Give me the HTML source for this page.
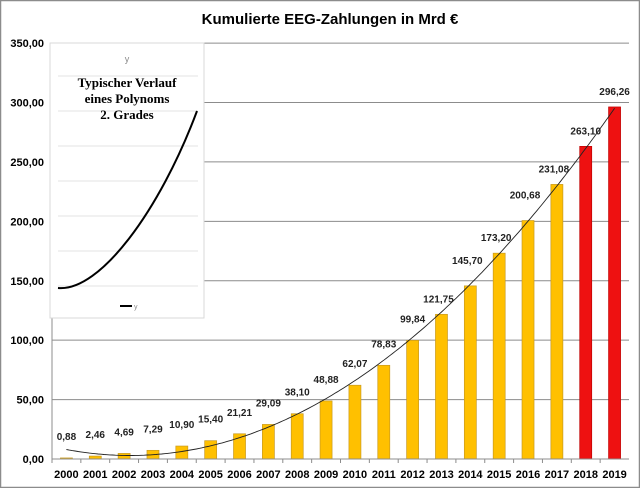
<!DOCTYPE html>
<html><head><meta charset="utf-8"><style>
html,body{margin:0;padding:0;background:#fff;}
svg{display:block;font-family:"Liberation Sans",Arial,sans-serif;}
</style></head><body>
<svg id="chart" width="640" height="488" viewBox="0 0 640 488">
<rect x="0.5" y="0.5" width="639" height="487" fill="#fff" stroke="#8c8c8c" stroke-width="1.5"/>
<text x="330" y="24" text-anchor="middle" font-size="15" font-weight="bold" fill="#000">Kumulierte EEG-Zahlungen in Mrd €</text>
<g id="grid"></g><g id="bars"></g><g id="trend"></g><g id="labels"></g><g id="axes"></g>
<g id="inset">
<rect x="50" y="43" width="154" height="275" fill="#fff" stroke="#d9d9d9"/>
<text x="127" y="62" text-anchor="middle" font-size="9" fill="#888">y</text>
<g id="insetgrid"></g>
<text x="127" y="87" text-anchor="middle" font-family="Liberation Serif,serif" font-weight="bold" font-size="13">Typischer Verlauf</text>
<text x="127" y="103" text-anchor="middle" font-family="Liberation Serif,serif" font-weight="bold" font-size="13">eines Polynoms</text>
<text x="127" y="119" text-anchor="middle" font-family="Liberation Serif,serif" font-weight="bold" font-size="13">2. Grades</text>
<path d="M58,288 C100,292 160,210 197,111" fill="none" stroke="#000" stroke-width="2"/>
<line x1="120" y1="306" x2="132" y2="306" stroke="#000" stroke-width="2"/>
<text x="134" y="309" font-size="7" fill="#888">y</text>
</g>
</svg>
<script>
const years=["2000","2001","2002","2003","2004","2005","2006","2007","2008","2009","2010","2011","2012","2013","2014","2015","2016","2017","2018","2019"];
const values=[0.88,2.46,4.69,7.29,10.90,15.40,21.21,29.09,38.10,48.88,62.07,78.83,99.84,121.75,145.70,173.20,200.68,231.08,263.10,296.26];
const labels=["0,88","2,46","4,69","7,29","10,90","15,40","21,21","29,09","38,10","48,88","62,07","78,83","99,84","121,75","145,70","173,20","200,68","231,08","263,10","296,26"];
const forecast=[false,false,false,false,false,false,false,false,false,false,false,false,false,false,false,false,false,false,true,true];
const yTicks=[0,50,100,150,200,250,300,350];
const yTickLabels=["0,00","50,00","100,00","150,00","200,00","250,00","300,00","350,00"];
const NS="http://www.w3.org/2000/svg";
const L=52,R=629,T=43.1,B=459,YMAX=350;
const step=(R-L)/years.length;
const xc=i=>L+step*(i+0.5);
const y=v=>B-v/YMAX*(B-T);
function mk(t,a,p){const e=document.createElementNS(NS,t);for(const k in a)e.setAttribute(k,a[k]);p.appendChild(e);return e;}
const grid=document.getElementById('grid');
yTicks.forEach((v,i)=>{
 if(v>0){const g=mk('line',{x1:L,x2:R,y1:y(v),y2:y(v),stroke:'#8c8c8c','stroke-width':1},grid);
 
 }
 const t=mk('text',{x:44,y:y(v)+4,'text-anchor':'end','font-size':11,'font-weight':'bold'},grid);t.textContent=yTickLabels[i];
 
 
});
const bars=document.getElementById('bars'),lab=document.getElementById('labels'),ax=document.getElementById('axes');
values.forEach((v,i)=>{
 const r=mk('rect',{x:xc(i)-6,y:y(v),width:12,height:B-y(v),fill:forecast[i]?'#ee1111':'#ffc000',stroke:forecast[i]?'#c00000':'#c89a20','stroke-width':0.7},bars);
 
 
 const t=mk('text',{x:xc(i)-(i>12&&i<18?3:0),y:y(v)-(i<13?18:(i%2===0&&i<17?22:12)),'text-anchor':'middle','font-size':10,'font-weight':'bold',fill:'#222'},lab);t.textContent=labels[i];
 
 
 const xt=mk('text',{x:xc(i),y:478,'text-anchor':'middle','font-size':11,'font-weight':'bold'},ax);xt.textContent=years[i];
 
 
 const tk=mk('line',{x1:L+step*i,x2:L+step*i,y1:B,y2:B+4,stroke:'#8c8c8c'},ax);
 
 
});
const ya=mk('line',{x1:L,x2:L,y1:T,y2:B,stroke:'#8c8c8c'},ax);


const xa=mk('line',{x1:L,x2:R,y1:B,y2:B,stroke:'#8c8c8c'},ax);


// quadratic regression trendline
let n=values.length,S=[0,0,0,0,0],Sy=[0,0,0];
values.forEach((v,i)=>{const x=i+1;for(let k=0;k<5;k++)S[k]+=Math.pow(x,k);for(let k=0;k<3;k++)Sy[k]+=v*Math.pow(x,k);});
const M=[[S[0],S[1],S[2],Sy[0]],[S[1],S[2],S[3],Sy[1]],[S[2],S[3],S[4],Sy[2]]];
for(let c=0;c<3;c++){for(let r=c+1;r<3;r++){const f=M[r][c]/M[c][c];for(let k=c;k<4;k++)M[r][k]-=f*M[c][k];}}
const co=[0,0,0];for(let r=2;r>=0;r--){let s=M[r][3];for(let k=r+1;k<3;k++)s-=M[r][k]*co[k];co[r]=s/M[r][r];}
let d='';for(let t=0;t<=190;t++){const x=1+t/10;const v=co[0]+co[1]*x+co[2]*x*x;d+=(t?'L':'M')+xc(x-1).toFixed(1)+','+y(v).toFixed(1);}
const tr=mk('path',{d:d,fill:'none',stroke:'#222','stroke-width':0.9},document.getElementById('trend'));


const ig=document.getElementById('insetgrid');
[76,111,146,181,216,251,286].forEach(yy=>{const g=mk('line',{x1:58,x2:198,y1:yy,y2:yy,stroke:'#e3e3e3'},ig);
 
 });
</script>
</body></html>
